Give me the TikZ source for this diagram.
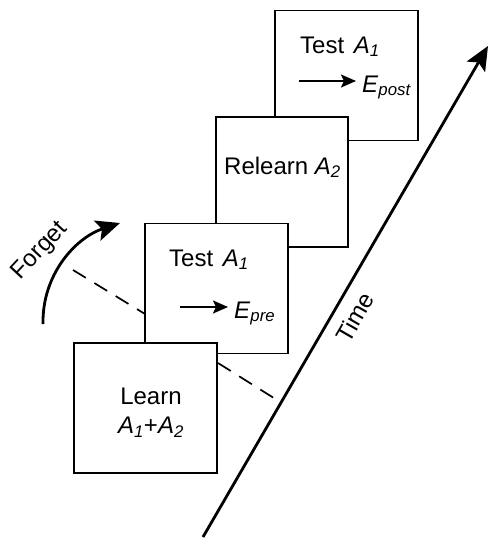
\documentclass[tikz,border=0pt]{standalone}
\usepackage{fontspec}
\setmainfont{Liberation Sans}
\usetikzlibrary{arrows.meta}
\newcommand{\vsub}[2]{\textit{#1}\textsubscript{\textit{#2}}}

\begin{document}
\begin{tikzpicture}[x=1pt,y=-1pt,
			stage/.style={draw,fill=white,line width=1.6pt,minimum width=143pt,minimum height=130pt,inner sep=0pt},
			txt/.style={font=\fontsize{24}{29}\selectfont,inner sep=0pt},
			cut/.style={line width=1.7pt,dash pattern=on 15pt off 10pt},
			time arrow/.style={line width=2.8pt,-{Stealth[length=24pt,width=21pt,inset=5pt]}},
			small arrow/.style={line width=2pt,shorten >=6pt,-{Stealth[length=15pt,width=13pt,inset=3pt]}}]
			\useasboundingbox (0,0) rectangle (489,541);

			% cut lines, under the boxes
			\coordinate (cut_hi) at (73,270);
			\coordinate (pre_l) at (145,314);
			\coordinate (cut_lo) at (218,363);
			\coordinate (t_cut) at (277,400);
			\draw[cut] (cut_hi) -- (pre_l);
			\draw[cut] (cut_lo) -- (t_cut);

			% stages, last one on top
			\node[stage] (test_post) at (346.5,75.5) {};
			\node[stage,minimum width=132pt] (relearn) at (282,182) {};
			\node[stage] (test_pre) at (216.5,288.5) {};
			\node[stage] (learn) at (145.5,408) {};

			\node[txt,anchor=base west] (tp_1) at (300,53) {Test\hspace{3pt} \vsub{A}{1}};
			\node[txt,anchor=base west] (tp_e) at (362,92) {\vsub{E}{post}};
			\coordinate (tp_a) at (299,81);
			\draw[small arrow] (tp_a) -- (tp_e.west |- tp_a);

			\node[txt,anchor=base west] (rl) at (224,174) {Relearn \vsub{A}{2}};

			\node[txt,anchor=base west] (tq_1) at (169,266) {Test\hspace{3pt} \vsub{A}{1}};
			\node[txt,anchor=base west] (tq_e) at (234,318) {\vsub{E}{pre}};
			\coordinate (tq_a) at (180,307);
			\draw[small arrow] (tq_a) -- (tq_e.west |- tq_a);

			\node[txt,align=center] (ln) at (151,413) {Learn\\\vsub{A}{1}+\vsub{A}{2}};

			% time axis
			\coordinate (t0) at (203,537);
			\coordinate (t1) at (488,46);
			\draw[time arrow] (t0) -- (t1);
			\node[txt,rotate=60] (time) at (355,317) {Time};

			% forgetting
			\coordinate (fg_0) at (43,324);
			\coordinate (fg_1) at (120,223);
			\draw[time arrow] (fg_0) .. controls (42,275) and (75,238) .. (fg_1);
			\node[txt,rotate=47] (forget) at (40,251) {Forget};
		\end{tikzpicture}
\end{document}
